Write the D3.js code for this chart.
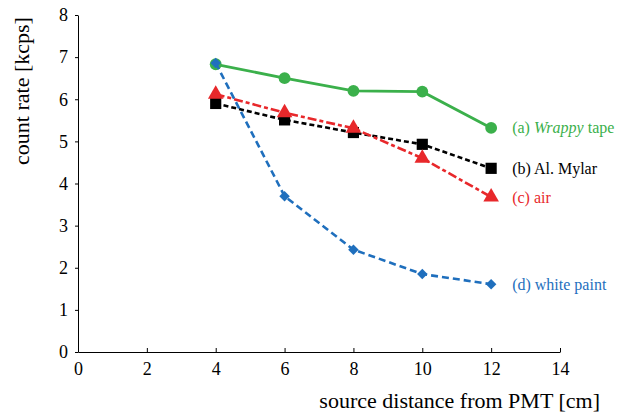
<!DOCTYPE html>
<html>
<head>
<meta charset="utf-8">
<script src="https://cdn.jsdelivr.net/npm/d3@7"></script>
<style>
  html, body { margin: 0; padding: 0; background: #fff; }
  svg, svg text { font-family: "Liberation Serif", "Times New Roman", Tinos, "DejaVu Serif", serif !important; }
</style>
</head>
<body>
<svg id="chart" width="640" height="416" font-family="Liberation Serif, Times New Roman, serif"></svg>
<script>
// Source distance from the PMT [cm]
const distances = [4, 6, 8, 10, 12];

// Count rate [kcps] for each reflector treatment
const wrappyTape = [6.83, 6.50, 6.20, 6.18, 5.32];
const alMylar    = [5.90, 5.51, 5.21, 4.93, 4.36];
const air        = [6.12, 5.68, 5.31, 4.60, 3.68];
const whitePaint = [6.86, 3.70, 2.43, 1.85, 1.61];

const xTicks = [0, 2, 4, 6, 8, 10, 12, 14];
const yTicks = [0, 1, 2, 3, 4, 5, 6, 7, 8];

const series = [
  { label: ["(a) ", "Wrappy", " tape"], values: wrappyTape, color: "#3bb04b", dash: null, marker: "circle" },
  { label: ["(b) Al. Mylar"], values: alMylar, color: "#000000", dash: "5,3", marker: "square" },
  { label: ["(c) air"], values: air, color: "#e8282b", dash: "9,3,4,3", marker: "triangle" },
  { label: ["(d) white paint"], values: whitePaint, color: "#1f6fbd", dash: "7,4", marker: "diamond" }
];

const FONT = '"Liberation Serif", "Times New Roman", serif';
const svg = d3.select("#chart");
const x = d3.scaleLinear().domain([0, 14]).range([78, 560]);
const y = d3.scaleLinear().domain([0, 8]).range([352, 15]);

// Axes
const xAxis = d3.axisBottom(x).tickValues(xTicks).tickSizeInner(-4).tickSizeOuter(0).tickPadding(9);
const yAxis = d3.axisLeft(y).tickValues(yTicks).tickSizeInner(3).tickSizeOuter(0).tickPadding(7);

const gx = svg.append("g").attr("transform", `translate(0,${y(0)})`).call(xAxis);
const gy = svg.append("g").attr("transform", `translate(${x(0)},0)`).call(yAxis);
[gx, gy].forEach(g => {
  g.attr("font-family", FONT).attr("font-size", 18);
  g.select(".domain").attr("stroke", "#000").attr("stroke-width", 1);
  g.selectAll(".tick line").attr("stroke", "#000").attr("stroke-width", 1);
  g.selectAll(".tick text").attr("fill", "#000");
});
gx.selectAll(".tick text").attr("dy", "0.8em");

// Axis titles
svg.append("text")
  .attr("x", 600).attr("y", 408)
  .attr("text-anchor", "end")
  .attr("font-family", FONT)
  .style("font-size", "22px")
  .text("source distance from PMT [cm]");

svg.append("text")
  .attr("transform", `translate(29,91) rotate(-90)`)
  .attr("text-anchor", "middle")
  .attr("font-family", FONT)
  .style("font-size", "22px")
  .text("count rate [kcps]");

// Lines
const line = d3.line().x((d, i) => x(distances[i])).y(d => y(d));

series.forEach(s => {
  const g = svg.append("g");
  g.append("path")
    .datum(s.values)
    .attr("d", line)
    .attr("fill", "none")
    .attr("stroke", s.color)
    .attr("stroke-width", s.dash ? 2.6 : 2.8)
    .attr("stroke-dasharray", s.dash);

  const symType = {
    circle: d3.symbolCircle,
    square: d3.symbolSquare,
    triangle: d3.symbolTriangle,
    diamond: d3.symbolSquare
  }[s.marker];
  const size = { circle: 110, square: 125, triangle: 105, diamond: 55 }[s.marker];
  const rot = s.marker === "diamond" ? " rotate(45)" : "";
  const sym = d3.symbol().type(symType).size(size);

  g.selectAll("path.marker")
    .data(s.values)
    .join("path")
    .attr("class", "marker")
    .attr("d", sym)
    .attr("transform", (d, i) => `translate(${x(distances[i])},${y(d)})${rot}`)
    .attr("fill", s.color);

  // Label at the end of each series
  const last = s.values[s.values.length - 1];
  const t = g.append("text")
    .attr("x", x(distances[distances.length - 1]) + 21)
    .attr("y", y(last))
    .attr("dy", "0.35em")
    .attr("fill", s.color)
    .attr("font-family", FONT)
    .style("font-size", "16px");
  s.label.forEach((part, k) => {
    t.append("tspan").text(part).style("font-style", k === 1 ? "italic" : "normal");
  });
});
</script>
</body>
</html>
